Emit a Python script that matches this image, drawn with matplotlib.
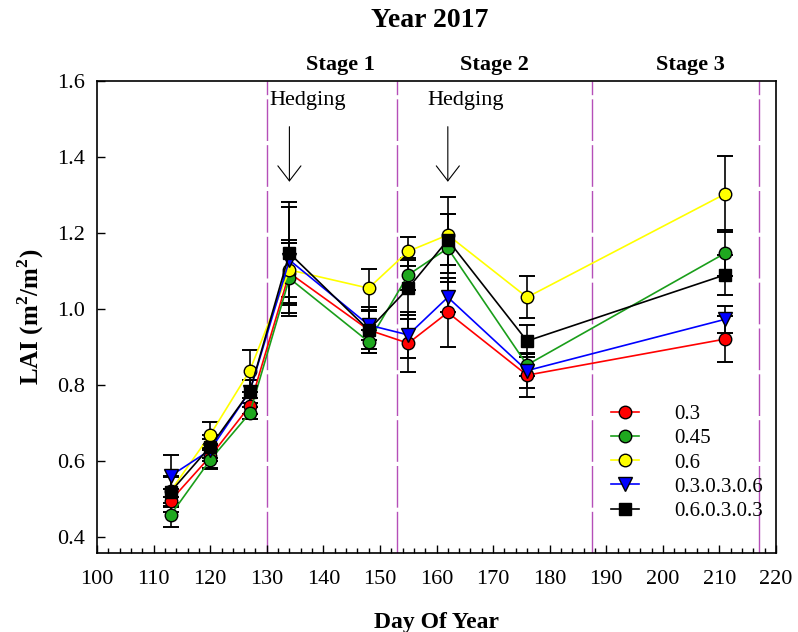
import numpy as np
import matplotlib
matplotlib.use("Agg")
import matplotlib.pyplot as plt
from matplotlib.ticker import MultipleLocator
import matplotlib.transforms as mtransforms

plt.rcParams['font.family'] = ['Liberation Serif', 'DejaVu Serif']
plt.rcParams['mathtext.fontset'] = 'custom'
plt.rcParams['mathtext.rm'] = 'Liberation Serif'
plt.rcParams['mathtext.bf'] = 'Liberation Serif:bold'

# sampling days
days = [113, 120, 127, 134, 148, 155, 162, 176, 211]

# LAI means and errors per treatment
lai_03 = [0.495, 0.611, 0.744, 1.094, 0.944, 0.909, 0.990, 0.825, 0.920]
err_03 = [0.030, 0.030, 0.020, 0.080, 0.050, 0.075, 0.090, 0.058, 0.060]
lai_045 = [0.457, 0.602, 0.725, 1.080, 0.913, 1.089, 1.159, 0.852, 1.146]
err_045 = [0.032, 0.025, 0.015, 0.100, 0.030, 0.040, 0.090, 0.030, 0.060]
lai_06 = [0.520, 0.668, 0.837, 1.102, 1.054, 1.151, 1.194, 1.030, 1.302]
err_06 = [0.040, 0.035, 0.055, 0.070, 0.050, 0.038, 0.100, 0.055, 0.100]
lai_0306 = [0.560, 0.628, 0.782, 1.128, 0.957, 0.931, 1.030, 0.837, 0.972]
err_0306 = [0.055, 0.030, 0.030, 0.140, 0.040, 0.060, 0.040, 0.045, 0.035]
lai_0603 = [0.518, 0.637, 0.782, 1.146, 0.944, 1.054, 1.181, 0.915, 1.089]
err_0603 = [0.040, 0.030, 0.030, 0.136, 0.060, 0.080, 0.067, 0.042, 0.053]

labels = ['0.3', '0.45', '0.6', '0.3.0.3.0.6', '0.6.0.3.0.3']

# stage boundaries, hedging dates
stage_lines = [130, 153, 187.5, 217]
stage_names = ['Stage 1', 'Stage 2', 'Stage 3']
stage_label_x = [143.0, 170.3, 204.8]
hedging_days = [134, 162]

fig = plt.figure(figsize=(7.98, 6.32), dpi=100)
ax = fig.add_axes([0.1216, 0.125, 0.8508, 0.7473])

series = [
    (lai_03, err_03, '#ff0000', '#ff0000', 'o', 9),
    (lai_045, err_045, '#1a9e1a', '#1fa81f', 'o', 9),
    (lai_06, err_06, '#ffff00', '#ffff00', 'o', 9),
    (lai_0306, err_0306, '#0000ff', '#0000ff', 'v', 9.5),
    (lai_0603, err_0603, '#000000', '#000000', 's', 8),
]

for i, (y, e, lc, fc, mk, ms) in enumerate(series):
    ax.errorbar(days, y, yerr=e, fmt='none', ecolor='black', elinewidth=1.2,
                capsize=5.5, capthick=1.4, zorder=3 + i * 0.1)
    ax.plot(days, y, color=lc, lw=1.2, marker=mk, ms=ms, mfc=fc, mec='black',
            mew=1.0, label=labels[i], zorder=4 + i * 0.1)

for d in stage_lines:
    ax.axvline(d, color='#b54fb8', lw=1.0, dashes=(30, 3), zorder=1)

trans = mtransforms.blended_transform_factory(ax.transData, ax.transAxes)
for name, xs in zip(stage_names, stage_label_x):
    ax.text(xs, 1.012, name, transform=trans, ha='center', va='bottom',
            fontsize=16, fontweight='bold')

for d in hedging_days:
    ax.text(d + 3.2, 1.547, 'Hedging', ha='center', va='center', fontsize=16)
    ax.annotate('', xy=(d, 1.334), xytext=(d, 1.479),
                arrowprops=dict(arrowstyle='->,head_length=1.08,head_width=0.83',
                                lw=0.8, color='black', mutation_scale=10,
                                shrinkA=0, shrinkB=0))

ax.set_xlim(100, 220)
ax.set_ylim(0.357, 1.6)
ax.xaxis.set_major_locator(MultipleLocator(10))
ax.xaxis.set_minor_locator(MultipleLocator(2))
ax.yaxis.set_major_locator(MultipleLocator(0.2))
ax.yaxis.set_major_formatter(matplotlib.ticker.FormatStrFormatter('%.1f'))
ax.tick_params(axis='x', which='major', direction='in', length=6, width=1.0,
               labelsize=16, pad=12, top=False)
ax.tick_params(axis='x', which='minor', direction='in', length=3.5, width=1.0,
               top=False)
ax.tick_params(axis='y', which='major', direction='in', length=6, width=1.0,
               labelsize=16, pad=9, right=False)
for s in ax.spines.values():
    s.set_linewidth(1.2)

ax.set_xlabel('Day Of Year', fontsize=17, fontweight='bold', labelpad=17)
ax.set_ylabel(r'LAI (m$^{\mathbf{2}}$/m$^{\mathbf{2}}$)', fontsize=18,
              fontweight='bold', labelpad=8)

fig.text(0.539, 0.968, 'Year 2017', ha='center', va='center', fontsize=20,
         fontweight='bold')

leg = ax.legend(loc='lower left', bbox_to_anchor=(0.757, 0.068), frameon=False,
                fontsize=15, handlelength=1.35, handletextpad=1.7,
                labelspacing=0.22, borderaxespad=0, borderpad=0)

fig.savefig('out.png', dpi=100)
